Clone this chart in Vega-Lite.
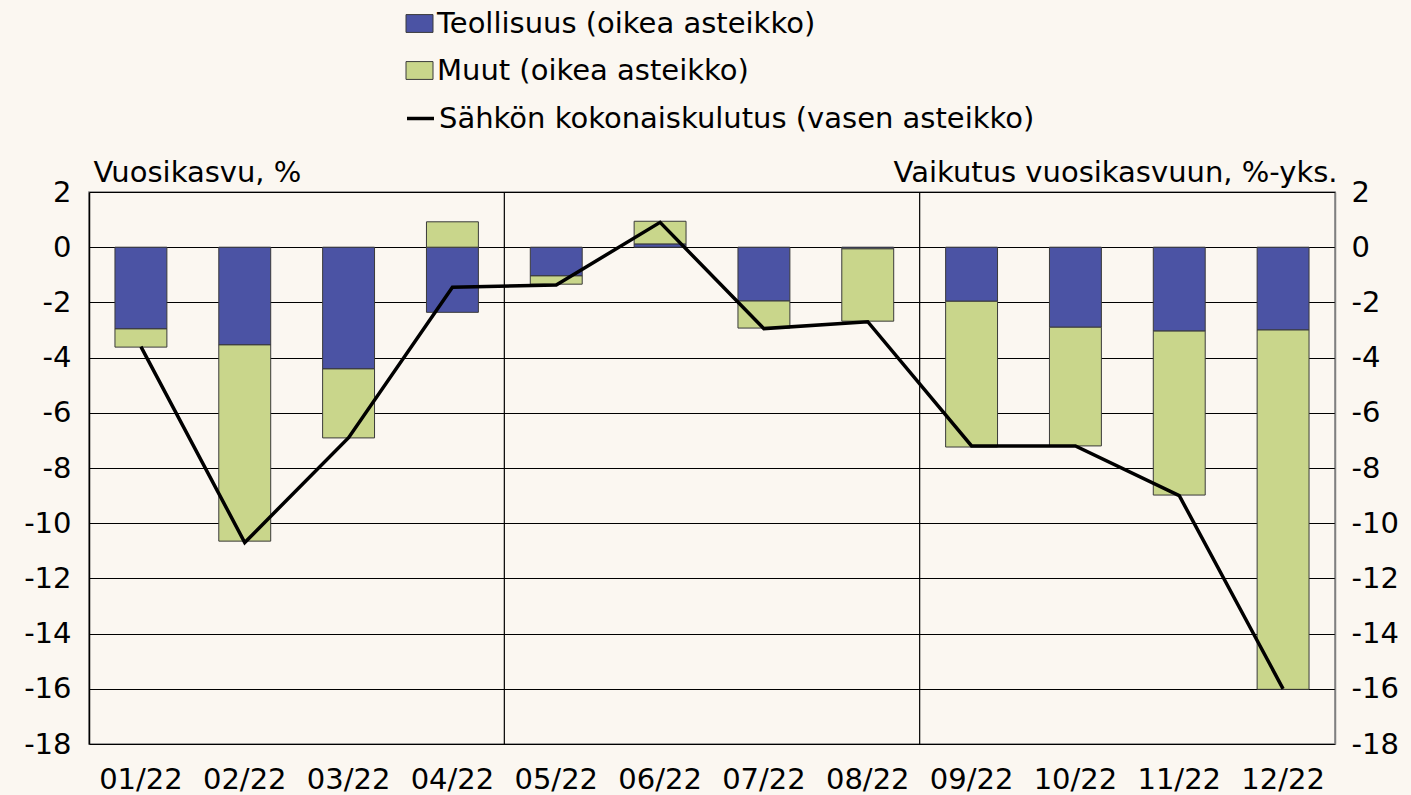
{
  "$schema": "https://vega.github.io/schema/vega-lite/v6.json",
  "autosize": "none",
  "width": 1246,
  "height": 552,
  "padding": {"left": 89, "top": 192, "right": 76, "bottom": 51},
  "background": "#FBF7F1",
  "config": {
    "font": "DejaVu Sans",
    "view": {"stroke": "#808080", "strokeWidth": 1.5},
    "axis": {"labelFontSize": 29, "labelColor": "#000", "ticks": false, "titleFontSize": 29, "titleFontWeight": "normal", "titleColor": "#000", "labelFont": "DejaVu Sans", "titleFont": "DejaVu Sans"},
    "legend": {"labelFontSize": 29, "labelFont": "DejaVu Sans", "labelColor": "#000", "labelLimit": 900, "padding": 0}
  },
  "datasets": {
    "bars": [
      {"month": "01/22", "series": "Teollisuus (oikea asteikko)", "ord": 1, "value": -2.96},
      {"month": "01/22", "series": "Muut (oikea asteikko)", "ord": 2, "value": -0.66},
      {"month": "02/22", "series": "Teollisuus (oikea asteikko)", "ord": 1, "value": -3.54},
      {"month": "02/22", "series": "Muut (oikea asteikko)", "ord": 2, "value": -7.11},
      {"month": "03/22", "series": "Teollisuus (oikea asteikko)", "ord": 1, "value": -4.41},
      {"month": "03/22", "series": "Muut (oikea asteikko)", "ord": 2, "value": -2.5},
      {"month": "04/22", "series": "Teollisuus (oikea asteikko)", "ord": 1, "value": -2.36},
      {"month": "04/22", "series": "Muut (oikea asteikko)", "ord": 2, "value": 0.92},
      {"month": "05/22", "series": "Teollisuus (oikea asteikko)", "ord": 1, "value": -1.04},
      {"month": "05/22", "series": "Muut (oikea asteikko)", "ord": 2, "value": -0.3},
      {"month": "06/22", "series": "Teollisuus (oikea asteikko)", "ord": 1, "value": 0.12},
      {"month": "06/22", "series": "Muut (oikea asteikko)", "ord": 2, "value": 0.82},
      {"month": "07/22", "series": "Teollisuus (oikea asteikko)", "ord": 1, "value": -1.95},
      {"month": "07/22", "series": "Muut (oikea asteikko)", "ord": 2, "value": -0.98},
      {"month": "08/22", "series": "Teollisuus (oikea asteikko)", "ord": 1, "value": -0.06},
      {"month": "08/22", "series": "Muut (oikea asteikko)", "ord": 2, "value": -2.62},
      {"month": "09/22", "series": "Teollisuus (oikea asteikko)", "ord": 1, "value": -1.96},
      {"month": "09/22", "series": "Muut (oikea asteikko)", "ord": 2, "value": -5.28},
      {"month": "10/22", "series": "Teollisuus (oikea asteikko)", "ord": 1, "value": -2.9},
      {"month": "10/22", "series": "Muut (oikea asteikko)", "ord": 2, "value": -4.3},
      {"month": "11/22", "series": "Teollisuus (oikea asteikko)", "ord": 1, "value": -3.04},
      {"month": "11/22", "series": "Muut (oikea asteikko)", "ord": 2, "value": -5.94},
      {"month": "12/22", "series": "Teollisuus (oikea asteikko)", "ord": 1, "value": -3.0},
      {"month": "12/22", "series": "Muut (oikea asteikko)", "ord": 2, "value": -13.02}
    ],
    "line": [
      {"month": "01/22", "series": "Sähkön kokonaiskulutus (vasen asteikko)", "total": -3.6},
      {"month": "02/22", "series": "Sähkön kokonaiskulutus (vasen asteikko)", "total": -10.7},
      {"month": "03/22", "series": "Sähkön kokonaiskulutus (vasen asteikko)", "total": -6.9},
      {"month": "04/22", "series": "Sähkön kokonaiskulutus (vasen asteikko)", "total": -1.45},
      {"month": "05/22", "series": "Sähkön kokonaiskulutus (vasen asteikko)", "total": -1.37},
      {"month": "06/22", "series": "Sähkön kokonaiskulutus (vasen asteikko)", "total": 0.9},
      {"month": "07/22", "series": "Sähkön kokonaiskulutus (vasen asteikko)", "total": -2.95},
      {"month": "08/22", "series": "Sähkön kokonaiskulutus (vasen asteikko)", "total": -2.7},
      {"month": "09/22", "series": "Sähkön kokonaiskulutus (vasen asteikko)", "total": -7.2},
      {"month": "10/22", "series": "Sähkön kokonaiskulutus (vasen asteikko)", "total": -7.2},
      {"month": "11/22", "series": "Sähkön kokonaiskulutus (vasen asteikko)", "total": -9.0},
      {"month": "12/22", "series": "Sähkön kokonaiskulutus (vasen asteikko)", "total": -16.0}
    ],
    "seps": [{"sep": "05/22"}, {"sep": "09/22"}]
  },
  "encoding": {
    "x": {
      "field": "month", "type": "nominal",
      "scale": {"domain": ["01/22","02/22","03/22","04/22","05/22","06/22","07/22","08/22","09/22","10/22","11/22","12/22"], "paddingInner": 0, "paddingOuter": 0},
      "axis": {"title": null, "labelAngle": 0, "domain": false, "labelPadding": 21, "labelBaseline": "top"}
    }
  },
  "layer": [
    {
      "data": {"name": "line"},
      "mark": {"type": "rule", "opacity": 0},
      "encoding": {
        "y": {"datum": 0, "type": "quantitative", "scale": {"domain": [-18, 2], "nice": false, "zero": false},
          "axis": {"orient": "left", "values": [-18,-16,-14,-12,-10,-8,-6,-4,-2,0,2], "labelExpr": "replace(datum.label, '\u2212', '-')", "grid": true, "gridColor": "#000", "gridWidth": 1.2, "domainColor": "#000", "domainWidth": 1.5, "labelPadding": 18, "title": "Vuosikasvu, %", "titleAngle": 0, "titleAlign": "left", "titleBaseline": "alphabetic", "titleX": 4, "titleY": -11}}
      }
    },
    {
      "data": {"name": "bars"},
      "mark": {"type": "bar", "width": {"band": 0.5}, "stroke": "#3a3a3a", "strokeWidth": 1},
      "encoding": {
        "y": {"field": "value", "type": "quantitative", "stack": "zero", "scale": {"domain": [-18, 2], "nice": false, "zero": false},
          "axis": {"orient": "right", "values": [-18,-16,-14,-12,-10,-8,-6,-4,-2,0,2], "labelExpr": "replace(datum.label, '\u2212', '-')", "grid": false, "domainColor": "#808080", "domainWidth": 1.5, "labelPadding": 16, "title": "Vaikutus vuosikasvuun, %-yks.", "titleAngle": 0, "titleAlign": "right", "titleBaseline": "alphabetic", "titleX": 2, "titleY": -11}},
        "order": {"field": "ord", "type": "quantitative"},
        "fill": {
          "field": "series", "type": "nominal",
          "scale": {"domain": ["Teollisuus (oikea asteikko)", "Muut (oikea asteikko)"], "range": ["#4B53A4", "#C9D68B"]},
          "legend": {
            "title": null, "orient": "none", "legendX": 316, "legendY": -183, "direction": "vertical",
            "labelOffset": 3, "rowPadding": 17,
            "symbolType": "M-1,-0.66H1V0.66H-1Z", "symbolSize": 729, "symbolStrokeColor": "#3a3a3a", "symbolStrokeWidth": 1, "symbolOpacity": 1
          }
        }
      }
    },
    {
      "data": {"name": "seps"},
      "mark": {"type": "rule", "color": "#000", "strokeWidth": 1.2},
      "encoding": {"x": {"field": "sep", "type": "nominal", "bandPosition": 0}}
    },
    {
      "data": {"name": "line"},
      "mark": {"type": "line", "strokeWidth": 3.5, "strokeJoin": "miter"},
      "encoding": {
        "y": {"field": "total", "type": "quantitative", "scale": {"domain": [-18, 2], "nice": false, "zero": false}, "axis": null},
        "stroke": {
          "field": "series", "type": "nominal",
          "scale": {"domain": ["Sähkön kokonaiskulutus (vasen asteikko)"], "range": ["#000000"]},
          "legend": {
            "title": null, "orient": "none", "legendX": 316, "legendY": -89, "direction": "vertical",
            "labelOffset": 3, "symbolType": "stroke", "symbolSize": 729, "symbolStrokeWidth": 3.5
          }
        }
      }
    }
  ],
  "resolve": {"scale": {"y": "independent"}}
}
